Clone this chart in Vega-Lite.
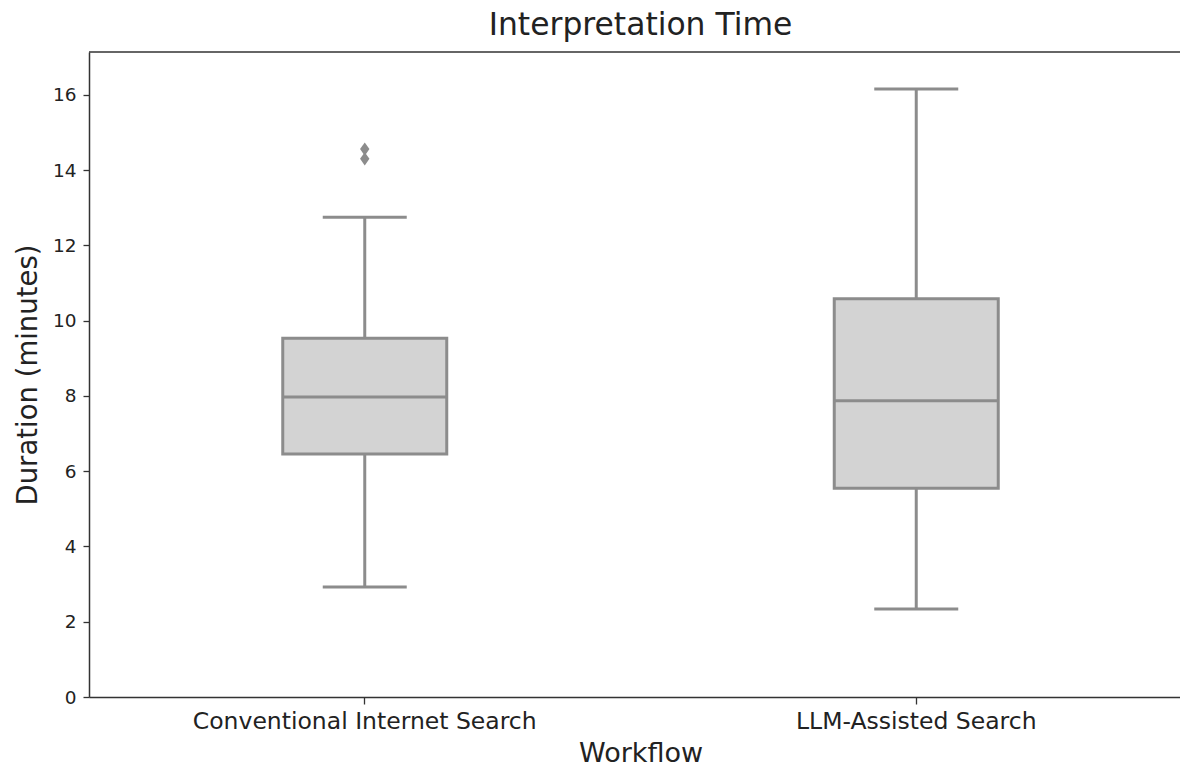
{
  "$schema": "https://vega.github.io/schema/vega-lite/v6.json",
  "autosize": {"type": "none"},
  "width": 1091,
  "height": 645,
  "padding": {"left": 89, "top": 52, "right": 0, "bottom": 72},
  "background": "white",
  "config": {
    "font": "DejaVu Sans",
    "view": {"stroke": null},
    "axis": {"grid": false, "domainColor": "#333333", "domainWidth": 1.5, "tickColor": "#333333", "tickWidth": 1.3, "labelColor": "#222222", "titleColor": "#222222", "titleFontWeight": "normal", "labelFont": "DejaVu Sans", "titleFont": "DejaVu Sans"}
  },
  "title": {"text": "Interpretation Time", "fontSize": 31.4, "fontWeight": "normal", "font": "DejaVu Sans", "color": "#222222", "anchor": "middle", "dx": 6, "offset": 10},
  "datasets": {
    "boxes": [
      {"workflow": "Conventional Internet Search", "min": 2.92, "q1": 6.46, "median": 7.97, "q3": 9.53, "max": 12.75},
      {"workflow": "LLM-Assisted Search", "min": 2.34, "q1": 5.55, "median": 7.87, "q3": 10.58, "max": 16.16}
    ],
    "outliers": [
      {"workflow": "Conventional Internet Search", "value": 14.56},
      {"workflow": "Conventional Internet Search", "value": 14.3}
    ]
  },
  "layer": [
    {
      "data": {"name": "boxes"},
      "mark": {"type": "rule", "color": "#8c8c8c", "strokeWidth": 3},
      "encoding": {
        "x": {
          "field": "workflow", "type": "nominal",
          "sort": ["Conventional Internet Search", "LLM-Assisted Search"],
          "scale": {"domain": ["Conventional Internet Search", "LLM-Assisted Search"], "range": [0, 1103], "paddingInner": 0, "paddingOuter": 0},
          "axis": {"title": "Workflow", "labelAngle": 0, "labelFontSize": 23.5, "labelLimit": 0, "titleFontSize": 27, "tickSize": 7, "labelPadding": 5, "titlePadding": 8, "titleX": 551.5}
        },
        "y": {"field": "min", "type": "quantitative", "scale": {"domain": [0, 17.14], "nice": false, "zero": false},
          "axis": {"title": "Duration (minutes)", "values": [0, 2, 4, 6, 8, 10, 12, 14, 16], "labelFontSize": 18.5, "titleFontSize": 27.5, "tickSize": 6, "labelPadding": 7, "titlePadding": 10}},
        "y2": {"field": "max"}
      }
    },
    {
      "data": {"name": "boxes"},
      "mark": {"type": "bar", "size": 164, "fill": "#d3d3d3", "stroke": "#8c8c8c", "strokeWidth": 3},
      "encoding": {
        "x": {"field": "workflow", "type": "nominal"},
        "y": {"field": "q1", "type": "quantitative"},
        "y2": {"field": "q3"}
      }
    },
    {
      "data": {"name": "boxes"},
      "mark": {"type": "tick", "size": 164, "thickness": 3, "color": "#8c8c8c", "opacity": 1},
      "encoding": {
        "x": {"field": "workflow", "type": "nominal"},
        "y": {"field": "median", "type": "quantitative"}
      }
    },
    {
      "data": {"name": "boxes"},
      "mark": {"type": "tick", "size": 84, "thickness": 3, "color": "#8c8c8c", "opacity": 1},
      "encoding": {
        "x": {"field": "workflow", "type": "nominal"},
        "y": {"field": "min", "type": "quantitative"}
      }
    },
    {
      "data": {"name": "boxes"},
      "mark": {"type": "tick", "size": 84, "thickness": 3, "color": "#8c8c8c", "opacity": 1},
      "encoding": {
        "x": {"field": "workflow", "type": "nominal"},
        "y": {"field": "max", "type": "quantitative"}
      }
    },
    {
      "data": {"name": "outliers"},
      "mark": {"type": "point", "shape": "M0,-1L0.7,0L0,1L-0.7,0Z", "size": 180, "filled": true, "color": "#8c8c8c", "opacity": 1},
      "encoding": {
        "x": {"field": "workflow", "type": "nominal"},
        "y": {"field": "value", "type": "quantitative"}
      }
    },
    {
      "data": {"values": [{}]},
      "mark": {"type": "rule", "color": "#333333", "strokeWidth": 1.5},
      "encoding": {"y": {"datum": 17.14, "type": "quantitative"}}
    }
  ]
}
